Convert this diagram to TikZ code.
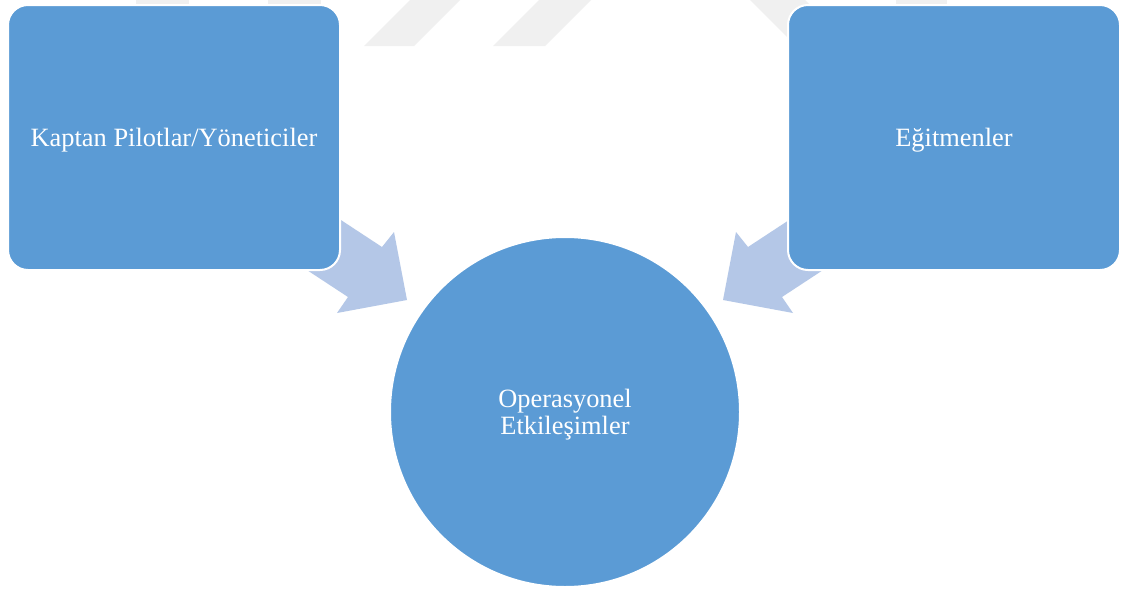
\documentclass[tikz,border=0pt]{standalone}
\usepackage{fontspec}
\setmainfont{Liberation Serif}
\definecolor{boxblue}{HTML}{5B9BD5}
\definecolor{arrowblue}{HTML}{B4C7E7}
\definecolor{markgrey}{HTML}{F0F0F0}
\tikzset{
  block/.style={draw=white, line width=2pt, fill=boxblue, rounded corners=20pt,
    minimum width=332pt, minimum height=265pt, inner sep=0pt,
    text=white, font=\fontsize{26.4}{27}\selectfont},
  hub/.style={circle, draw=white, line width=2pt, fill=boxblue,
    minimum size=350pt, inner sep=0pt, align=center,
    text=white, font=\fontsize{26.4}{27}\selectfont},
  label/.style={text=white, font=\fontsize{26.4}{27}\selectfont, align=center},
  blockarrow/.style={fill=arrowblue, draw=none},
  stripe/.style={fill=markgrey, draw=none}
}
\begin{document}
\begin{tikzpicture}[x=1pt, y=-1pt]
  \useasboundingbox (0,0) rectangle (1121,589);
  \fill[white] (0,0) rectangle (1121,589);

  % faint background stripes
  \fill[stripe] (364,46) -- (414,46) -- (460,0) -- (410,0) -- cycle;
  \fill[stripe] (493,46) -- (545,46) -- (591,0) -- (539,0) -- cycle;
  \fill[stripe] (750,0) -- (805,0) -- (845,40) -- (790,40) -- cycle;
  \fill[stripe] (136,0) rectangle (189,4);
  \fill[stripe] (268,0) rectangle (321,4);
  \fill[stripe] (896,0) rectangle (947,4);

  % block arrows pointing to the centre
  \fill[blockarrow] (315,203) -- (382,247) -- (394,232) -- (407,300)
    -- (337,313) -- (348,297) -- (281,253) -- cycle;
  \fill[blockarrow] (815,203) -- (748,247) -- (736,232) -- (723,300)
    -- (793,313) -- (782,297) -- (849,253) -- cycle;

  % boxes and central circle
  \node[block] (kp) at (174,137.5) {};
  \node[block] (eg) at (954,137.5) {};
  \node[hub] (op) at (565,412) {};

  % their texts
  \node[label] (kpt) at ([yshift=-2.5pt]kp.center) {Kaptan Pilotlar/Yöneticiler};
  \node[label] (egt) at ([yshift=-2.5pt]eg.center) {Eğitmenler};
  \node[label] (opt) at ([yshift=-2.5pt]op.center) {Operasyonel\\Etkileşimler};
\end{tikzpicture}
\end{document}
